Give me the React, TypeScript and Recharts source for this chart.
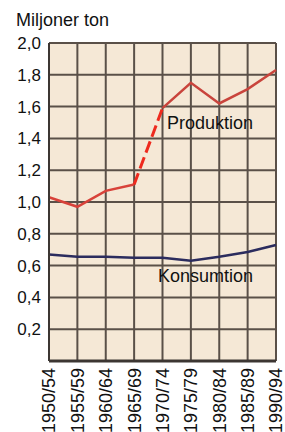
import React from 'react';
import { LineChart, Line, XAxis, YAxis, CartesianGrid } from 'recharts';

const periods = ['1950/54', '1955/59', '1960/64', '1965/69', '1970/74', '1975/79', '1980/84', '1985/89', '1990/94'];
const produktion = [1.03, 0.97, 1.07, 1.11, 1.59, 1.75, 1.62, 1.71, 1.83];
const konsumtion = [0.67, 0.655, 0.655, 0.65, 0.65, 0.63, 0.655, 0.685, 0.73];
const yTicks = [0, 0.2, 0.4, 0.6, 0.8, 1.0, 1.2, 1.4, 1.6, 1.8, 2.0];

const data = periods.map((p, i) => ({
  period: p,
  prodA: i <= 3 ? produktion[i] : null,
  prodB: i === 3 || i === 4 ? produktion[i] : null,
  prodC: i >= 4 ? produktion[i] : null,
  kons: konsumtion[i],
}));

const font = '"Liberation Sans", Arial, sans-serif';

const XTick = (props: any) => {
  const { x, y, payload } = props;
  return (
    <g transform={`translate(${x},${y})`}>
      <text
        transform="rotate(-90)"
        x={0}
        y={0}
        dy="0.36em"
        textAnchor="end"
        fill="#111"
        fontSize={18}
        fontFamily={font}
      >
        {payload.value}
      </text>
    </g>
  );
};

export default function App() {
  return (
    <div style={{ position: 'absolute', left: 0, top: 0, width: 285, height: 432, background: '#fff', overflow: 'hidden' }}>
      <div style={{ position: 'absolute', left: 16, top: 8, fontFamily: font, fontSize: 18, color: '#111', lineHeight: '24px', whiteSpace: 'nowrap' }}>
        Miljoner ton
      </div>
      <LineChart width={285} height={432} data={data} margin={{ top: 43, right: 9, left: 0, bottom: 0 }}>
        <CartesianGrid fill="#f5e8d6" stroke="#5a5048" strokeWidth={2} />
        <XAxis
          dataKey="period"
          height={71}
          interval={0}
          tick={<XTick />}
          tickLine={false}
          tickSize={0}
          tickMargin={7}
          axisLine={{ stroke: '#3c3632', strokeWidth: 3 }}
        />
        <YAxis
          type="number"
          domain={[0, 2]}
          ticks={yTicks}
          width={49}
          interval={0}
          tickLine={false}
          tickSize={0}
          tickMargin={8}
          tickFormatter={(v: number) => (v === 0 ? '' : v.toFixed(1).replace('.', ','))}
          tick={{ fill: '#111', fontSize: 17, fontFamily: font }}
          axisLine={{ stroke: '#3c3632', strokeWidth: 2 }}
        />
        <Line dataKey="kons" stroke="#2b2c5e" strokeWidth={2.5} dot={false} isAnimationActive={false} />
        <Line dataKey="prodA" stroke="#d8423a" strokeWidth={2.5} dot={false} isAnimationActive={false} connectNulls={false} />
        <Line dataKey="prodB" stroke="#ee2a1e" strokeWidth={3} strokeDasharray="12 5" dot={false} isAnimationActive={false} connectNulls={false} />
        <Line dataKey="prodC" stroke="#c9443c" strokeWidth={2.5} dot={false} isAnimationActive={false} connectNulls={false} />
      </LineChart>
      <div style={{ position: 'absolute', left: 167, top: 111, fontFamily: font, fontSize: 18, color: '#111', lineHeight: '24px', whiteSpace: 'nowrap' }}>
        Produktion
      </div>
      <div style={{ position: 'absolute', left: 158, top: 264, fontFamily: font, fontSize: 18, color: '#111', lineHeight: '24px', whiteSpace: 'nowrap' }}>
        Konsumtion
      </div>
    </div>
  );
}
